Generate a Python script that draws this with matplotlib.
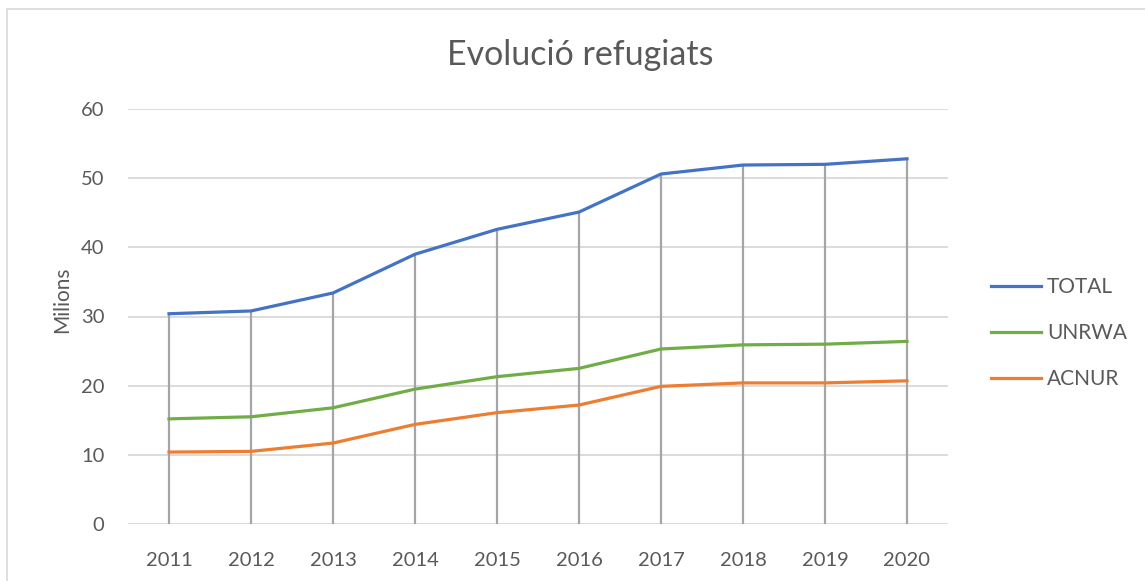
import matplotlib.pyplot as plt
from matplotlib.patches import Rectangle

years = [2011, 2012, 2013, 2014, 2015, 2016, 2017, 2018, 2019, 2020]
total = [30.4, 30.8, 33.4, 39.0, 42.6, 45.1, 50.6, 51.9, 52.0, 52.8]
unrwa = [15.2, 15.5, 16.8, 19.5, 21.3, 22.5, 25.3, 25.9, 26.0, 26.4]
acnur = [10.4, 10.5, 11.7, 14.4, 16.1, 17.2, 19.9, 20.4, 20.4, 20.7]
y_ticks = [0, 10, 20, 30, 40, 50, 60]

TEXT = '#595959'
plt.rcParams['font.family'] = ['Lato', 'DejaVu Sans']

fig = plt.figure(figsize=(11.45, 5.81), dpi=100)
fig.patches.append(Rectangle((7 / 1145, -0.1), 1.2, 1 - 9 / 581 + 0.1,
                             transform=fig.transFigure, fill=False,
                             edgecolor='#D9D9D9', linewidth=1.2))

ax = fig.add_axes([128 / 1145, 57 / 581, 820 / 1145, 415 / 581])
ax.set_xlim(years[0] - 0.5, years[-1] + 0.5)
ax.set_ylim(0, 60)

for t in y_ticks:
    ax.axhline(t, color='#D9D9D9', linewidth=1.3, zorder=1)
ax.vlines(years, 0, total, color='#A5A5A5', linewidth=1.6, zorder=2)

ax.plot(years, total, color='#4472C4', linewidth=2.3, label='TOTAL', zorder=3)
ax.plot(years, unrwa, color='#70AD47', linewidth=2.3, label='UNRWA', zorder=3)
ax.plot(years, acnur, color='#ED7D31', linewidth=2.3, label='ACNUR', zorder=3)

for s in ax.spines.values():
    s.set_visible(False)
ax.set_xticks(years)
ax.set_yticks(y_ticks)
ax.tick_params(length=0, labelsize=14.5, labelcolor=TEXT)
ax.tick_params(axis='y', pad=17)
ax.tick_params(axis='x', pad=20)

fig.text(62 / 1145, 1 - 300 / 581, 'Milions', fontsize=15, color=TEXT,
         rotation=90, ha='center', va='center')
fig.text(580 / 1145, 1 - 55 / 581, 'Evolució refugiats', fontsize=24.5,
         color=TEXT, ha='center', va='center')

fig.legend(loc='center left', bbox_to_anchor=(972 / 1145, 1 - 333 / 581),
           frameon=False, fontsize=15, labelcolor=TEXT, handlelength=2.4,
           labelspacing=1.25, handletextpad=0.3)

fig.savefig('out.png', dpi=100)
